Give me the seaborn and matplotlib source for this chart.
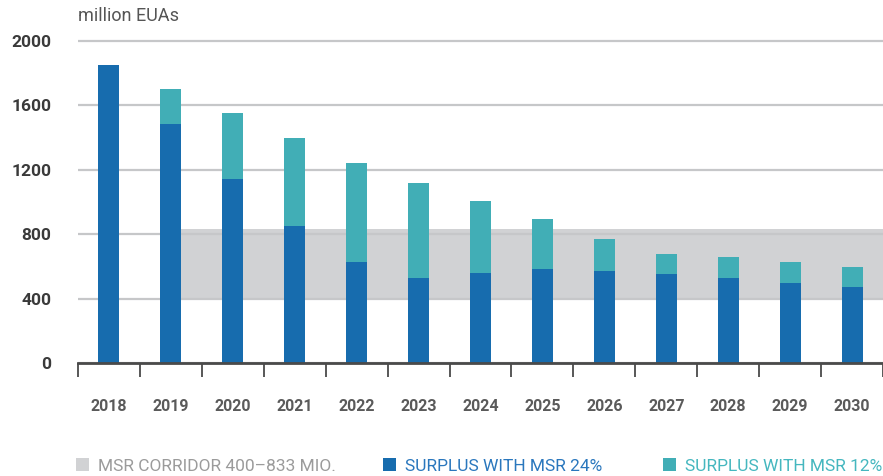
import matplotlib
matplotlib.use("Agg")
import matplotlib.pyplot as plt
import matplotlib.patches as mpatches
import seaborn as sns
import pandas as pd

# ---- data ----
years = ["2018", "2019", "2020", "2021", "2022", "2023", "2024",
         "2025", "2026", "2027", "2028", "2029", "2030"]
surplus_msr24 = [1850, 1485, 1140, 850, 627, 527, 559, 582, 574, 551, 528, 497, 469]
surplus_msr12 = [1850, 1704, 1553, 1394, 1239, 1116, 1003, 896, 772, 679, 658, 627, 596]
corridor_low, corridor_high = 400, 833
corridor_start = "2019"
y_ticks = [0, 400, 800, 1200, 1600, 2000]
y_label = "million EUAs"
legend_labels = ["MSR CORRIDOR 400\u2013833 MIO.", "SURPLUS WITH MSR 24%", "SURPLUS WITH MSR 12%"]

BLUE = "#176cae"
TEAL = "#41aeb6"
BAND = "#d1d2d4"
GRID = "#c6c7c9"

sns.set_theme(style="white")
plt.rcParams["font.family"] = ["Roboto", "DejaVu Sans"]

df = pd.DataFrame({"year": years, "msr24": surplus_msr24, "msr12": surplus_msr12})

fig = plt.figure(figsize=(8.83, 4.76), dpi=100)
ax = fig.add_axes([78 / 883, 113 / 476, 1 - 78 / 883, 0.9176 - 113 / 476])

sns.barplot(data=df, x="year", y="msr12", color=TEAL, width=0.34, saturation=1,
            ax=ax, zorder=3, linewidth=0)
sns.barplot(data=df, x="year", y="msr24", color=BLUE, width=0.34, saturation=1,
            ax=ax, zorder=4, linewidth=0)

# corridor band
start = years.index(corridor_start)
ax.fill_between([start, len(years) - 0.5], corridor_low, corridor_high,
                color=BAND, zorder=0.2, linewidth=0)

ax.set_xlim(-0.5, len(years) - 0.5)
ax.set_ylim(0, 2010)
ax.set_yticks(y_ticks)
ax.set_yticklabels([str(v) for v in y_ticks])
ax.yaxis.grid(True, color=GRID, linewidth=1.6)
ax.set_axisbelow(True)
for gl in ax.get_ygridlines():
    gl.set_zorder(1)
ax.set_xlabel("")
ax.set_ylabel("")

for s in ["top", "right", "left"]:
    ax.spines[s].set_visible(False)
ax.spines["bottom"].set_color("#4a4a4a")
ax.spines["bottom"].set_linewidth(2)
ax.spines["bottom"].set_zorder(5)

ax.tick_params(axis="y", length=0, pad=19, labelsize=12.5, labelcolor="#3a3a3a")
for t in ax.get_yticklabels():
    t.set_fontweight("bold")
ax.set_xticks([i - 0.5 for i in range(len(years) + 1)], minor=True)
ax.tick_params(axis="x", which="minor", length=10, width=1.3, color="#4a4a4a", direction="out")
ax.tick_params(axis="x", which="major", length=0, pad=26, labelsize=11.5, labelcolor="#5a5a5a")
ax.xaxis.set_ticks_position("bottom")
for t in ax.get_xticklabels():
    t.set_fontweight("bold")

fig.text(78 / 883, 1 - 16 / 476, y_label, ha="left", va="center",
         fontsize=13, color="#555555")

# legends
leg_specs = [
    (BAND, "#9b9b9b", 76),
    (BLUE, "#2a77bd", 383),
    (TEAL, "#45b7bf", 663),
]
for (fc, tc, xpx), lab in zip(leg_specs, legend_labels):
    h = mpatches.Patch(facecolor=fc, edgecolor="none")
    lg = fig.legend([h], [lab], loc="center left",
                    bbox_to_anchor=(xpx / 883, 1 - 466 / 476),
                    frameon=False, borderpad=0, borderaxespad=0,
                    handlelength=0.75, handleheight=0.75, handletextpad=0.5,
                    fontsize=12.5)
    for t in lg.get_texts():
        t.set_color(tc)

fig.savefig("out.png", dpi=100)
